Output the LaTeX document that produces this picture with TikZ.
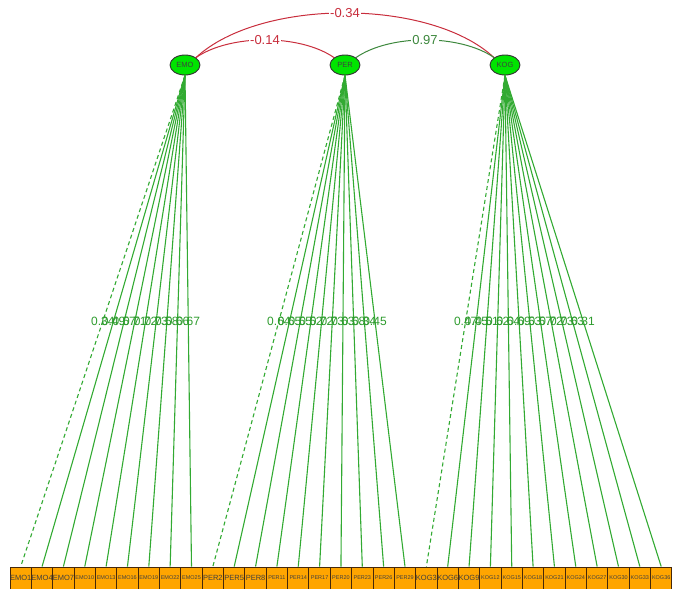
\documentclass[tikz,border=0pt]{standalone}
\usepackage{fontspec}
\setmainfont{Liberation Sans}
\usetikzlibrary{shapes.geometric}
\definecolor{latgreen}{RGB}{0,228,0}
\definecolor{boxorange}{RGB}{255,165,0}
\definecolor{boxbrown}{RGB}{70,40,10}
\definecolor{loadgreen}{RGB}{50,170,50}
\definecolor{loadtext}{RGB}{45,155,45}
\definecolor{covred}{RGB}{200,45,60}
\definecolor{covgreen}{RGB}{60,135,60}

\begin{document}
\begin{tikzpicture}[x=1pt,y=-1pt,
  latent/.style={ellipse,draw=black!80,fill=latgreen,line width=0.9pt,minimum width=30pt,minimum height=20pt,inner sep=0pt,font=\fontsize{7.5}{7.5}\selectfont,text=black!75},
  manifest/.style={rectangle,draw=boxbrown,fill=boxorange,line width=0.9pt,minimum width=21.35pt,minimum height=22pt,inner sep=0pt,text=black!75},
  loading/.style={loadgreen,line width=1.1pt},
  fixed/.style={loading,dash pattern=on 4pt off 3pt},
  lbl/.style={text=loadtext,font=\fontsize{12}{12}\selectfont,inner sep=0pt},
  cov/.style={covred,line width=1pt},
  covlbl/.style={fill=white,inner sep=1pt,font=\fontsize{13}{13}\selectfont}]
  \useasboundingbox (0,0) rectangle (673,589);
  % latent variables
  \node[latent] (emo) at (185,65) {EMO};
  \node[latent] (per) at (345,65) {PER};
  \node[latent] (kog) at (505,65) {KOG};
  % indicators
  \foreach \name/\fs [count=\i from 0] in {EMO1/7.5,EMO4/7.5,EMO7/7.5,EMO10/5.5,EMO13/5.5,EMO16/5.5,EMO19/5.5,EMO22/5.5,EMO25/5.5,
      PER2/7.5,PER5/7.5,PER8/7.5,PER11/5.5,PER14/5.5,PER17/5.5,PER20/5.5,PER23/5.5,PER26/5.5,PER29/5.5,
      KOG3/7.5,KOG6/7.5,KOG9/7.5,KOG12/5.5,KOG15/5.5,KOG18/5.5,KOG21/5.5,KOG24/5.5,KOG27/5.5,KOG30/5.5,KOG33/5.5,KOG36/5.5}
    \node[manifest,font=\fontsize{\fs}{\fs}\selectfont] (\name) at (20.7+21.35*\i,578) {\name};
  % loadings
  \draw[fixed] (emo.south) -- (EMO1.north) node[lbl,midway]{0.34};
  \foreach \name/\val in {EMO4/0.49,EMO7/0.57,EMO10/0.71,EMO13/0.72,EMO16/0.73,EMO19/0.58,EMO22/0.66,EMO25/0.67}
    \draw[loading] (emo.south) -- (\name.north) node[lbl,midway]{\val};
  \draw[fixed] (per.south) -- (PER2.north) node[lbl,midway]{0.64};
  \foreach \name/\val in {PER5/0.65,PER8/0.55,PER11/0.52,PER14/0.72,PER17/0.73,PER20/0.63,PER23/0.58,PER26/0.34,PER29/0.45}
    \draw[loading] (per.south) -- (\name.north) node[lbl,midway]{\val};
  \draw[fixed] (kog.south) -- (KOG3.north) node[lbl,midway]{0.47};
  \foreach \name/\val in {KOG6/0.45,KOG9/0.51,KOG12/0.62,KOG15/0.64,KOG18/0.69,KOG21/0.53,KOG24/0.57,KOG27/0.72,KOG30/0.73,KOG33/0.63,KOG36/0.31}
    \draw[loading] (kog.south) -- (\name.north) node[lbl,midway]{\val};
  % covariances
  \draw[cov] (emo.north east) .. controls (260,-2) and (430,-2) .. (kog.north west) node[covlbl,text=covred,midway]{-0.34};
  \draw[cov] (emo.north east) .. controls (230,34) and (300,34) .. (per.north west) node[covlbl,text=covred,midway]{-0.14};
  \draw[cov,covgreen] (per.north east) .. controls (390,34) and (460,34) .. (kog.north west) node[covlbl,text=covgreen,midway]{0.97};
\end{tikzpicture}
\end{document}
